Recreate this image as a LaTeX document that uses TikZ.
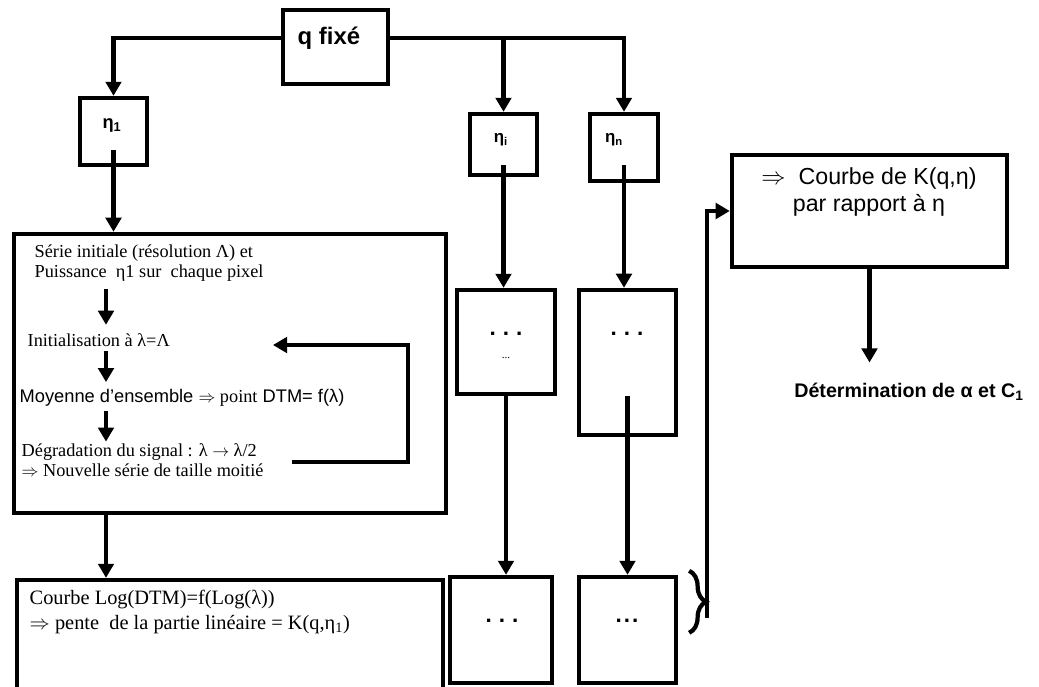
\documentclass[tikz,border=0pt]{standalone}
\usepackage{fontspec}
\setmainfont{Liberation Serif}
\setsansfont{Liberation Sans}
\usepackage{tikz}
\usetikzlibrary{arrows.meta,positioning,calc,decorations.pathreplacing}

\begin{document}
\begin{tikzpicture}[
    x=0.025cm, y=-0.025cm,
    >={Triangle[width=11pt,length=10pt]},
    blk/.style 2 args={draw, line width=3.1pt, inner sep=0pt,
                       minimum width=#1cm, minimum height=#2cm},
    arr/.style={->, line width=3.1pt},
    txt/.style={font=\fontsize{13}{14.3}\selectfont, align=left,
                inner sep=1pt, anchor=west},
    etalbl/.style={font=\sffamily\bfseries\fontsize{13}{13}\selectfont, inner sep=1pt},
    dots/.style={font=\sffamily\bfseries\fontsize{16}{16}\selectfont, inner sep=1pt},
  ]
  \useasboundingbox (0,0) rectangle (1039,686);
  \clip (0,0) rectangle (1039,686);

  % top
  \node[blk={2.625}{1.85}] (qfixe) at (335.5,47) {};
  \node[anchor=west, inner sep=1pt, font=\sffamily\bfseries\fontsize{17}{17}\selectfont]
    (qtxt) at (296,38) {q fixé};

  \node[blk={1.675}{1.675}] (eta1) at (113.5,131.5) {};
  \node[etalbl] (eta1txt) at (112,125) {η\textsubscript{1}};
  \node[blk={1.675}{1.525}] (etai) at (503.5,144.5) {};
  \node[etalbl, font=\sffamily\bfseries\fontsize{12}{12}\selectfont] (etaitxt) at (501,140) {η\textsubscript{i}};
  \node[blk={1.7}{1.675}] (etan) at (624,147.5) {};
  \node[etalbl, font=\sffamily\bfseries\fontsize{12}{12}\selectfont] (etantxt) at (614,140) {η\textsubscript{n}};

  \draw[arr] (qfixe.west |- qtxt) -| (eta1.north);
  \draw[arr] (qfixe.east |- qtxt) -| (etan.north);
  \draw[arr] (etai.north |- qtxt) -- (etai.north);

  % branche eta1
  \node[blk={10.8}{6.975}] (box1) at (230,373.5) {};
  \node[txt] (serie) at (33,263) {Série initiale (résolution Λ) et\\Puissance\ \ η1 sur\ \ chaque pixel};
  \node[txt] (init) at (26,340) {Initialisation à λ=Λ};
  \node[txt] (moy) at (18,398) {\sffamily\fontsize{13}{14}\selectfont Moyenne d’ensemble
    {\rmfamily\fontsize{13}{14}\selectfont$\Rightarrow$ point} DTM=\ f(λ)};
  \node[txt, font=\fontsize{13}{14.5}\selectfont] (degr) at (20,460)
    {Dégradation du signal : λ $\rightarrow$ λ/2\\$\Rightarrow$ Nouvelle série de taille moitié};

  \coordinate (col) at (106,0);
  \draw[arr, shorten <=4pt, shorten >=5pt] (serie.south -| col) -- (init.north -| col);
  \draw[arr, shorten <=2pt, shorten >=4pt] (init.south -| col) -- (moy.north -| col);
  \draw[arr, shorten <=2pt] (moy.south -| col) -- (degr.north -| col);

  % boucle
  \coordinate (loopS) at (292,462);
  \coordinate (loopR) at (408,345);
  \coordinate (loopE) at (273,345);
  \draw[arr] (loopS) -| (loopR) -- (loopE);

  \node[blk={10.65}{3.0}] (box2) at (230,640) {};
  \node[txt, font=\fontsize{14.5}{17.7}\selectfont] (pente) at (28,612)
    {Courbe Log(DTM)=f(Log(λ))\\$\Rightarrow$ pente\ \ de la partie linéaire = K(q,η\textsubscript{1})};
  \draw[arr] (box1.south -| col) -- (box2.north -| col);

  \draw[arr] ($(eta1.south)+(0,-17)$) -- (eta1.south |- box1.north);

  % branches eta_i et eta_n
  \node[blk={2.45}{2.6}] (midI) at (506,342) {};
  \node[dots] (dotsI) at (506,334) {.\hspace{5pt}.\hspace{5pt}.};
  \node[font=\fontsize{8}{8}\selectfont, inner sep=1pt] (dotsIb) at (506,358) {...};
  \node[blk={2.425}{3.625}] (midN) at (627.5,362.5) {};
  \node[dots] (dotsN) at (627,334) {.\hspace{5pt}.\hspace{5pt}.};

  \node[blk={2.55}{2.65}] (lowI) at (501,630) {};
  \node[dots] (dotsLI) at (502,621) {.\hspace{5pt}.\hspace{5pt}.};
  \node[blk={2.425}{2.65}] (lowN) at (627.5,630) {};
  \node[dots] (dotsLN) at (627,621) {.\hspace{1.5pt}.\hspace{1.5pt}.};

  \draw[arr] ($(etai.south)+(0,-12)$) -- (etai.south |- midI.north);
  \draw[arr] ($(etan.south)+(0,-18)$) -- (etan.south |- midN.north);
  \draw[arr] (midI.south) -- (midI.south |- lowI.north);
  \draw[arr] ($(midN.south)+(0,-41)$) -- (midN.south |- lowN.north);

  % accolade et resultat
  \draw[line width=3pt, decorate, decoration={brace, amplitude=12pt}]
    ($(lowN.north east)+(11,-4)$) -- ($(lowN.north east)+(11,58)$);
  \coordinate (brTip) at (707,618);

  \node[blk={6.875}{2.8}] (courbe) at (869.5,211) {};
  \node[font=\sffamily\fontsize{16.5}{19.5}\selectfont, align=center, inner sep=1pt]
    (courbetxt) at (869,192) {$\Rightarrow$\ \ Courbe de K(q,η)\\par rapport à η};
  \draw[arr] (brTip) |- (courbe.west);

  \node[font=\sffamily\bfseries\fontsize{14}{16}\selectfont, text height=10pt,
        text depth=3pt, inner ysep=15pt] (determ) at (909,393)
    {Détermination de α et C\textsubscript{1}};
  \draw[arr] (courbe.south) -- (courbe.south |- determ.north);
\end{tikzpicture}
\end{document}
